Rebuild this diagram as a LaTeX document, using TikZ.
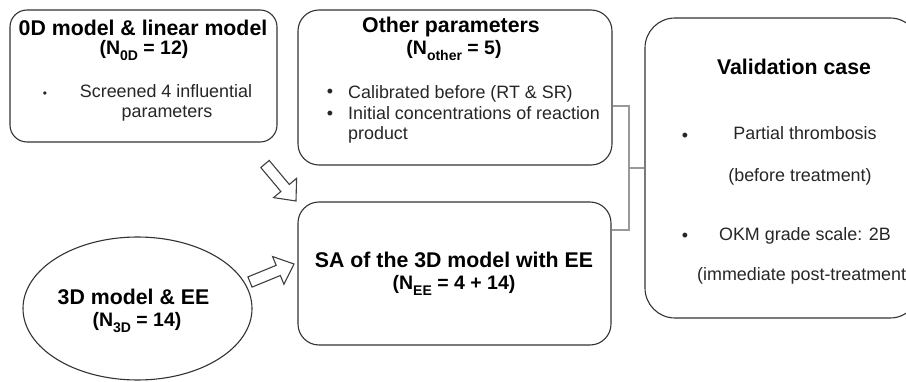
\documentclass[tikz,border=0pt]{standalone}
\usepackage{fontspec}
\setmainfont{Liberation Sans}
\usetikzlibrary{calc,shapes.geometric}
\newcommand{\mysub}[1]{\raisebox{-0.3em}{\fontsize{14}{14}\selectfont #1}}
\newcommand{\fatarrow}[2]{%
  \coordinate (hb) at ($(#2)!17pt!(#1)$);
  \draw[fat] ($(#1)!5.5pt!90:(#2)$) -- ($(hb)!5.5pt!90:(#2)$) -- ($(hb)!15pt!90:(#2)$)
    -- (#2) -- ($(hb)!15pt!-90:(#2)$) -- ($(hb)!5.5pt!-90:(#2)$) -- ($(#1)!5.5pt!-90:(#2)$) -- cycle;}
\tikzset{
  box/.style={draw=black!80, line width=1.1pt, fill=white},
  conn/.style={draw=black!40, line width=1.5pt},
  fat/.style={draw=black!75, line width=1.1pt, line join=miter, fill=white},
  ttl/.style={font=\fontsize{21.3}{25}\selectfont\bfseries, anchor=base, inner sep=0pt},
  nln/.style={font=\fontsize{19.5}{23}\selectfont\bfseries, anchor=base, inner sep=0pt},
  txt/.style={font=\fontsize{17.9}{21}\selectfont, text=black!85, anchor=base, inner sep=0pt},
  bul/.style={font=\fontsize{17.9}{21}\selectfont, text=black!85, anchor=center, inner sep=0pt},
}
\begin{document}
\begin{tikzpicture}[x=1pt,y=-1pt]
\useasboundingbox (0,0) rectangle (906,382);
\clip (0,0) rectangle (906,382);
\fill[white] (0,0) rectangle (906,382);

% boxes
\node[box, rounded corners=17pt, minimum width=267pt, minimum height=132pt] (zd) at (143.5,76) {};
\node[box, rounded corners=21pt, minimum width=314pt, minimum height=155pt] (ot) at (455,87.5) {};
\node[box, rounded corners=21pt, minimum width=313pt, minimum height=143pt] (sa) at (454.5,273.5) {};
\node[box, rounded corners=30pt, minimum width=275pt, minimum height=300pt] (va) at (782.5,168) {};
\node[box, ellipse, minimum width=229pt, minimum height=143pt] (td) at (137.5,308.5) {};

% connectors
\coordinate (j1) at (629,106);
\coordinate (j2) at (629,230);
\coordinate (jm) at (629,168);
\draw[conn] (j1 -| ot.east) -- (j1) -- (j2) -- (j2 -| sa.east);
\draw[conn] (jm) -- (jm -| va.west);

% fat arrows
\coordinate (a1s) at (265,164);
\coordinate (a1e) at (296,201);
\coordinate (a2s) at (250,282);
\coordinate (a2e) at (294,264);
\fatarrow{a1s}{a1e}
\fatarrow{a2s}{a2e}

% 0D box text
\node[ttl] (zdt1) at (143,36) {0D model \& linear model};
\node[nln] (zdt2) at (144,55) {(N\mysub{0D} = 12)};
\node[bul, font=\fontsize{12}{12}\selectfont] (zdb) at (45,95) {\textbullet};
\node[txt] (zdt3) at (166,98) {Screened 4 influential};
\node[txt] (zdt4) at (167,118) {parameters};

% other box text
\node[ttl] (ott1) at (451,33) {Other parameters};
\node[nln] (ott2) at (454,55) {(N\mysub{other} = 5)};
\node[bul] (otb1) at (330,93) {\textbullet};
\node[bul] (otb2) at (330,115) {\textbullet};
\node[txt, anchor=base west] (ott3) at (348,99) {Calibrated before (RT \& SR)};
\node[txt, anchor=base west] (ott4) at (348,120) {Initial concentrations of reaction};
\node[txt, anchor=base west] (ott5) at (348,140) {product};

% SA box text
\node[ttl] (sat1) at (454,268) {SA of the 3D model with EE};
\node[nln] (sat2) at (454,290) {(N\mysub{EE} = 4 + 14)};

% ellipse text
\node[ttl] (tdt1) at (133.5,305) {3D model \& EE};
\node[nln] (tdt2) at (137,327) {(N\mysub{3D} = 14)};

% validation text
\node[ttl] (vat1) at (794,75) {Validation case};
\node[bul] (vab1) at (685,137) {\textbullet};
\node[txt] (vat2) at (805,140) {Partial thrombosis};
\node[txt] (vat3) at (800,182) {(before treatment)};
\node[bul] (vab2) at (685,237) {\textbullet};
\node[txt] (vat4) at (805,241) {OKM grade scale: 2B};
\node[txt, anchor=base west] (vat5) at (697,281) {(immediate post-treatment};
\end{tikzpicture}
\end{document}
